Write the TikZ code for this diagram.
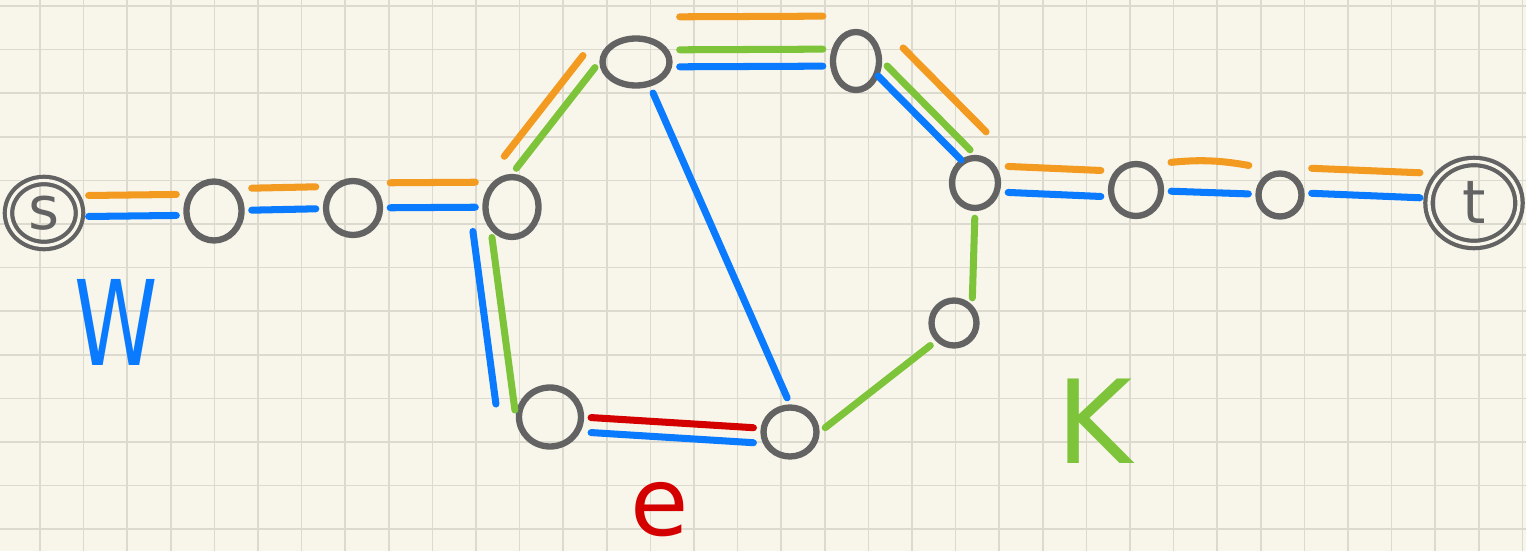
\documentclass[tikz,border=0pt]{standalone}
\usepackage{fontspec}
\usetikzlibrary{shapes.geometric}
\newfontfamily\hand{DejaVu Sans}
\definecolor{paper}{HTML}{F8F6EA}
\definecolor{gridc}{HTML}{DCDACF}
\definecolor{pen}{HTML}{636363}
\definecolor{orng}{HTML}{F39A21}
\definecolor{blu}{HTML}{0A7BFF}
\definecolor{grn}{HTML}{7DC43A}
\definecolor{rd}{HTML}{D40000}

\begin{document}
\begin{tikzpicture}[
  x=0.02cm, y=-0.02cm,
  gridline/.style={draw=gridc, line width=0.9pt},
  vtx/.style={ellipse, draw=pen, line width=3.6pt, inner sep=0pt},
  term/.style={vtx, line width=2.4pt, double=paper, double distance=1.8pt,
    font=\hand\fontsize{34}{34}\selectfont, text=pen},
  ink/.style={line width=4pt, line cap=round, shorten <=4pt, shorten >=4pt},
  pathO/.style={ink, draw=orng},
  pathB/.style={ink, draw=blu},
  pathG/.style={ink, draw=grn},
  pathR/.style={ink, draw=rd},
  lift/.style={transform canvas={shift={#1}}},
  tag/.style={font=\hand\fontsize{#1}{#1}\selectfont, inner sep=0pt}
]

% ---------- Paper ----------
\fill[paper] (0,0) rectangle (1526,551);
\useasboundingbox (0,0) rectangle (1526,551);
\foreach \gx in {-1,...,34} \draw[gridline] ({40+43.6*\gx},0) -- ({40+43.6*\gx},551);
\foreach \gy in {0,...,12} \draw[gridline] (0,{6+43.6*\gy}) -- (1526,{6+43.6*\gy});

% ---------- Vertices ----------
\node[term, minimum width=1.42cm, minimum height=1.3cm] (s) at (44,213) {s};
\node[vtx, minimum width=1.1cm, minimum height=1.18cm] (a1) at (214,211) {};
\node[vtx, minimum width=1.08cm, minimum height=1.08cm] (a2) at (353,208) {};
\node[vtx, minimum width=1.06cm, minimum height=1.2cm] (v) at (512,207) {};
\node[vtx, minimum width=1.34cm, minimum height=0.94cm] (tl) at (636,62) {};
\node[vtx, minimum width=0.92cm, minimum height=1.16cm] (tr) at (856,61) {};
\node[vtx, minimum width=0.92cm, minimum height=1.0cm] (h) at (975,183) {};
\node[vtx, minimum width=1.0cm, minimum height=1.04cm] (b1) at (1136,190) {};
\node[vtx, minimum width=0.86cm, minimum height=0.86cm] (b2) at (1280,195) {};
\node[term, minimum width=1.8cm, minimum height=1.66cm] (t) at (1474,203) {t};
\node[vtx, minimum width=1.24cm, minimum height=1.18cm] (bl) at (550,417) {};
\node[vtx, minimum width=1.06cm, minimum height=0.98cm] (br) at (790,432) {};
\node[vtx, minimum width=0.9cm, minimum height=0.9cm] (m) at (954,323) {};

% ---------- Orange path (above) ----------
\draw[pathO, lift={(0,-17)}] (s) -- (a1);
\draw[pathO, lift={(0,-22)}] (a1) -- (a2);
\draw[pathO, lift={(0,-25)}] (a2) -- (v);
\draw[pathO, lift={(-12,-12)}] (v.north) -- (tl.west);
\draw[pathO, lift={(0,-45)}] (tl) -- (tr);
\draw[pathO, lift={(16,-18)}] (tr.east) -- (h.north);
\draw[pathO, lift={(0,-18)}] (h) -- (b1);
\draw[pathO, lift={(0,-24)}] (b1) to[bend left=8] (b2);
\draw[pathO, lift={(0,-28)}] (b2) -- (t);

% ---------- Green path ----------
\draw[pathG] (v.north) -- (tl.west);
\draw[pathG, lift={(0,-12)}] (tl) -- (tr);
\draw[pathG] (tr.east) -- (h.north);
\draw[pathG] (h.south) -- (m.north east);
\draw[pathG] (m.south west) -- (br.east);
\draw[pathG] (v.south west) -- (bl.west);

% ---------- Blue path ----------
\draw[pathB, lift={(0,4)}] (s) -- (a1);
\draw[pathB] (a1) -- (a2);
\draw[pathB] (a2) -- (v);
\draw[pathB, lift={(-19,-6)}] (v.south west) -- (bl.west);
\draw[pathB, lift={(0,13)}] (bl) -- (br);
\draw[pathB] (tl.-60) -- (br.north);
\draw[pathB, lift={(0,5)}] (tl) -- (tr);
\draw[pathB, lift={(-9,10)}] (tr.east) -- (h.north);
\draw[pathB, lift={(0,8)}] (h) -- (b1);
\draw[pathB] (b1) -- (b2);
\draw[pathB, lift={(0,-3)}] (b2) -- (t);

% ---------- Red edge ----------
\draw[pathR, lift={(0,-2)}] (bl) -- (br);

% ---------- Labels ----------
\node[tag=48, text=blu, yscale=1.4, transform shape] (lW) at (116,322) {W};
\node[tag=66, text=grn] (lK) at (1095,421) {K};
\node[tag=54, text=rd, text height=29pt, text depth=0pt] (le) at (660,510) {e};

\end{tikzpicture}
\end{document}
